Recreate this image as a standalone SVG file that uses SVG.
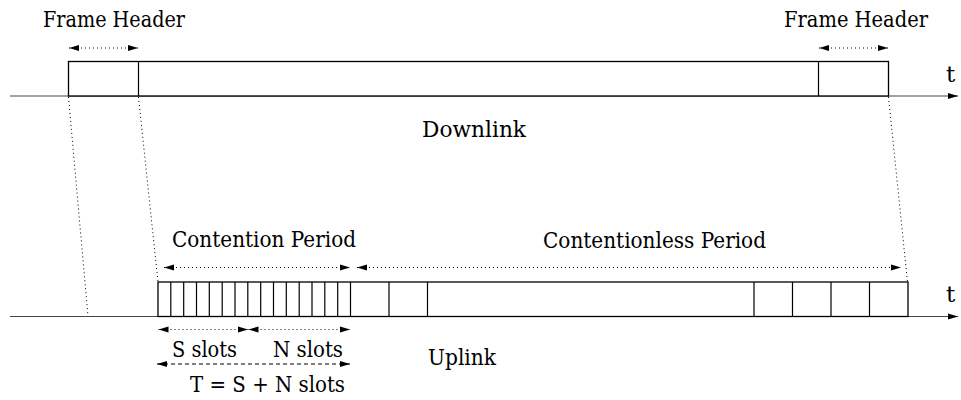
<svg xmlns="http://www.w3.org/2000/svg" width="961" height="400" viewBox="0 0 961 400">
  <style>
    text { font-family: "DejaVu Serif", "Liberation Serif", serif; font-size: 23px; fill: #000; }
    .box { fill: #fff; stroke: #000; stroke-width: 1.3; }
    .div { stroke: #000; stroke-width: 1.2; fill: none; }
    .axis { stroke: #444; stroke-width: 1.2; fill: none; }
    .dot { stroke: #000; stroke-width: 1; stroke-dasharray: 1 3; fill: none; }
    .dash { stroke: #000; stroke-width: 1; stroke-dasharray: 4 3; fill: none; }
  </style>
  <defs>
    <marker id="ah" markerUnits="userSpaceOnUse" markerWidth="11" markerHeight="7" refX="10" refY="3.5" orient="auto-start-reverse">
      <path d="M0,0.5 L10,3.5 L0,6.5 z" fill="#000"/>
    </marker>
  </defs>

  <!-- axes -->
  <g id="axes">
    <line class="axis" x1="10" y1="96" x2="958" y2="96" marker-end="url(#ah)"/>
    <text x="946" y="82">t</text>
    <line class="axis" x1="10" y1="316.5" x2="958" y2="316.5" marker-end="url(#ah)"/>
    <text x="946" y="302">t</text>
  </g>

  <!-- downlink frame -->
  <g id="downlink-frame">
    <rect class="box" x="68.5" y="61.5" width="820" height="34.5"/>
    <line class="div" x1="138.5" y1="61.5" x2="138.5" y2="96"/>
    <line class="div" x1="818.5" y1="61.5" x2="818.5" y2="96"/>
    <text x="422" y="137" textLength="104" lengthAdjust="spacingAndGlyphs">Downlink</text>
  </g>

  <g id="frame-header-left">
    <text x="43" y="27" textLength="142" lengthAdjust="spacingAndGlyphs">Frame Header</text>
  </g>
  <g id="frame-header-right">
    <text x="784" y="27" textLength="144" lengthAdjust="spacingAndGlyphs">Frame Header</text>
  </g>

  <!-- uplink frame -->
  <g id="uplink-frame">
    <rect class="box" x="158" y="282" width="750" height="34.5"/>
    <path class="div" d="M170.8,282V316.5 M183.7,282V316.5 M196.5,282V316.5 M209.3,282V316.5 M222.2,282V316.5 M235,282V316.5 M247.8,282V316.5 M260.7,282V316.5 M273.5,282V316.5 M286.3,282V316.5 M299.2,282V316.5 M312,282V316.5 M324.8,282V316.5 M337.7,282V316.5 M350.5,282V316.5 M389,282V316.5 M427.5,282V316.5 M754,282V316.5 M792.5,282V316.5 M831,282V316.5 M869.5,282V316.5"/>
    <text x="428" y="365" textLength="68" lengthAdjust="spacingAndGlyphs">Uplink</text>
  </g>

  <g id="contention-label">
    <text x="172" y="247" textLength="184" lengthAdjust="spacingAndGlyphs">Contention Period</text>
  </g>
  <g id="contentionless-label">
    <text x="543" y="248" textLength="223" lengthAdjust="spacingAndGlyphs">Contentionless Period</text>
  </g>
  <g id="slot-labels">
    <text x="172" y="357" textLength="65" lengthAdjust="spacingAndGlyphs">S slots</text>
    <text x="273" y="357" textLength="70" lengthAdjust="spacingAndGlyphs">N slots</text>
    <text x="190" y="392" textLength="155" lengthAdjust="spacingAndGlyphs">T = S + N slots</text>
  </g>

  <!-- connectors -->
  <g id="connectors">
    <line class="dot" x1="68.5" y1="97" x2="88" y2="316"/>
    <line class="dot" x1="138.5" y1="97" x2="158" y2="282"/>
    <line class="dot" x1="888.5" y1="97" x2="907.5" y2="282"/>

    <line class="dot" x1="69" y1="48" x2="138" y2="48" marker-start="url(#ah)" marker-end="url(#ah)"/>
    <line class="dot" x1="819" y1="48" x2="888" y2="48" marker-start="url(#ah)" marker-end="url(#ah)"/>

    <line class="dot" x1="164" y1="267.5" x2="350" y2="267.5" marker-start="url(#ah)" marker-end="url(#ah)"/>
    <line class="dot" x1="357" y1="267.5" x2="901" y2="267.5" marker-start="url(#ah)" marker-end="url(#ah)"/>

    <line class="dot" x1="158.5" y1="329.5" x2="248" y2="329.5" marker-start="url(#ah)" marker-end="url(#ah)"/>
    <line class="dot" x1="248.5" y1="329.5" x2="350" y2="329.5" marker-start="url(#ah)" marker-end="url(#ah)"/>

    <line class="dash" x1="157" y1="364" x2="350" y2="364" marker-start="url(#ah)" marker-end="url(#ah)"/>
  </g>
</svg>
